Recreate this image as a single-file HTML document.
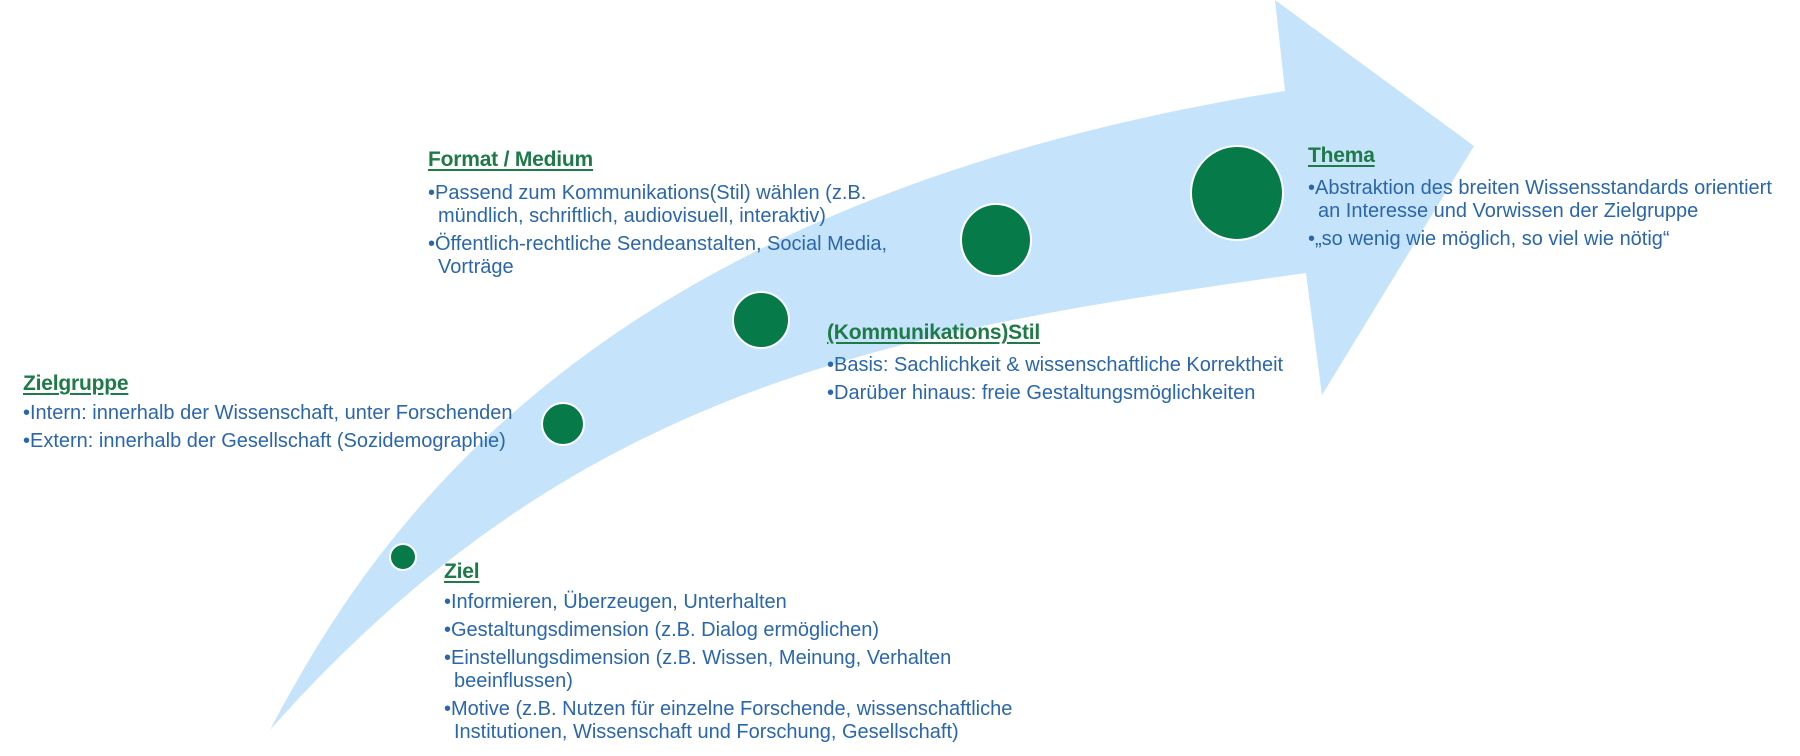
<!DOCTYPE html>
<html><head><meta charset="utf-8"><style>
body{margin:0;width:1800px;height:756px;background:#fff;position:relative;overflow:hidden;font-family:"Liberation Sans",sans-serif;}
.t{position:absolute;color:#1e7a46;font-weight:bold;font-size:21px;text-decoration:underline;text-decoration-thickness:2px;text-underline-offset:3px;line-height:24px;white-space:nowrap;letter-spacing:-0.2px}
.b{position:absolute;color:#2a66ad;font-size:20px;line-height:23px;white-space:nowrap;letter-spacing:0px}
.b div{margin-bottom:5px;padding-left:10px;text-indent:-10px}
</style></head><body>
<svg width="1800" height="756" style="position:absolute;left:0;top:0">
<path d="M270,730 C380,520 600,200 1285,91 L1275,0 L1474,146 L1322,395 L1306,273 C900,330 580,380 270,730 Z" fill="#c5e3fb"/>
<g fill="#067a48" stroke="#fff" stroke-width="2">
<circle cx="403" cy="557" r="13"/>
<circle cx="563" cy="424" r="21"/>
<circle cx="761" cy="320" r="28"/>
<ellipse cx="996" cy="240" rx="35" ry="36"/>
<ellipse cx="1237" cy="193" rx="46" ry="47"/>
</g>
</svg>
<div class="t" style="left:23px;top:372px">Zielgruppe</div>
<div class="b" style="left:23px;top:402px"><div>•Intern: innerhalb der Wissenschaft, unter Forschenden</div><div>•Extern: innerhalb der Gesellschaft (Sozidemographie)</div></div>
<div class="t" style="left:428px;top:148px">Format / Medium</div>
<div class="b" style="left:428px;top:182px"><div>•Passend zum Kommunikations(Stil) wählen (z.B.<br>mündlich, schriftlich, audiovisuell, interaktiv)</div><div>•Öffentlich-rechtliche Sendeanstalten, Social Media,<br>Vorträge</div></div>
<div class="t" style="left:827px;top:321px">(Kommunikations)Stil</div>
<div class="b" style="left:827px;top:354px"><div>•Basis: Sachlichkeit &amp; wissenschaftliche Korrektheit</div><div>•Darüber hinaus: freie Gestaltungsmöglichkeiten</div></div>
<div class="t" style="left:1308px;top:144px">Thema</div>
<div class="b" style="left:1308px;top:177px"><div>•Abstraktion des breiten Wissensstandards orientiert<br>an Interesse und Vorwissen der Zielgruppe</div><div>•„so wenig wie möglich, so viel wie nötig“</div></div>
<div class="t" style="left:444px;top:560px">Ziel</div>
<div class="b" style="left:444px;top:591px"><div>•Informieren, Überzeugen, Unterhalten</div><div>•Gestaltungsdimension (z.B. Dialog ermöglichen)</div><div>•Einstellungsdimension (z.B. Wissen, Meinung, Verhalten<br>beeinflussen)</div><div>•Motive (z.B. Nutzen für einzelne Forschende, wissenschaftliche<br>Institutionen, Wissenschaft und Forschung, Gesellschaft)</div></div>
</body></html>
